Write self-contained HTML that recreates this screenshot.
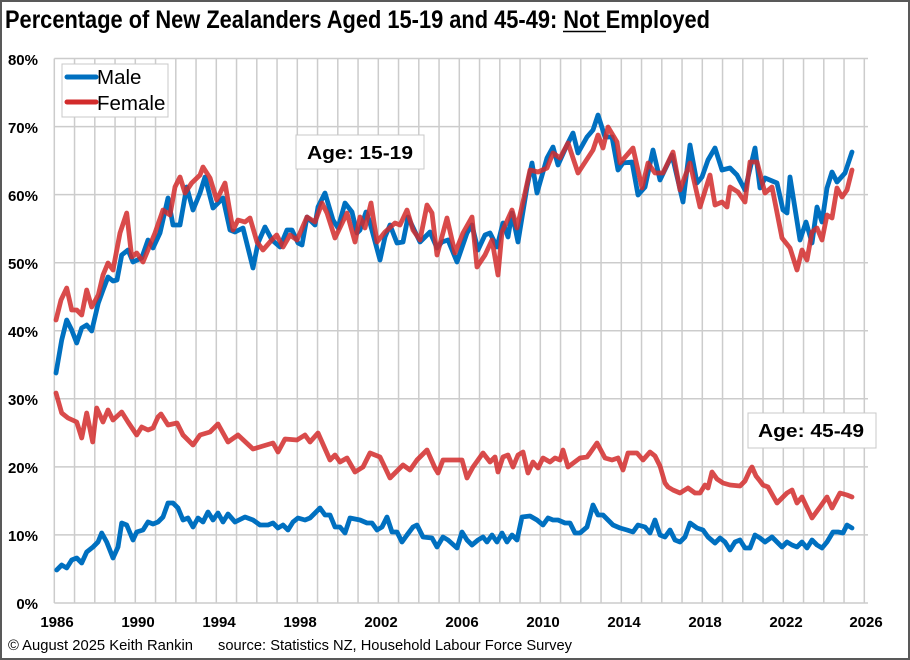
<!DOCTYPE html>
<html>
<head>
<meta charset="utf-8">
<style>
html,body{margin:0;padding:0;background:#fff;}
svg{display:block;}
text{font-family:"Liberation Sans",Arial,sans-serif;}
</style>
</head>
<body>
<svg width="910" height="660" viewBox="0 0 910 660" xmlns="http://www.w3.org/2000/svg">
<rect x="0" y="0" width="910" height="660" fill="#fff"/>
<rect x="1" y="1" width="908" height="658" fill="none" stroke="#595959" stroke-width="2"/>

<!-- title -->
<text x="5" y="28" font-size="25" font-weight="bold" fill="#000" textLength="705" lengthAdjust="spacingAndGlyphs">Percentage of New Zealanders Aged 15-19 and 45-49: Not Employed</text>
<line x1="563" y1="31.5" x2="606" y2="31.5" stroke="#000" stroke-width="1.6"/>

<!-- grid -->
<g stroke="#cccccc" stroke-width="1.5" fill="none">
<line x1="54.3" y1="603" x2="868" y2="603"/>
<line x1="54.3" y1="534.9" x2="868" y2="534.9"/>
<line x1="54.3" y1="466.9" x2="868" y2="466.9"/>
<line x1="54.3" y1="398.8" x2="868" y2="398.8"/>
<line x1="54.3" y1="330.8" x2="868" y2="330.8"/>
<line x1="54.3" y1="262.7" x2="868" y2="262.7"/>
<line x1="54.3" y1="194.6" x2="868" y2="194.6"/>
<line x1="54.3" y1="126.6" x2="868" y2="126.6"/>
<line x1="54.3" y1="58.5" x2="868" y2="58.5"/>
</g>
<g stroke="#cccccc" stroke-width="1.5" id="vgrid"></g>

<!-- y labels -->
<g font-size="15" font-weight="bold" fill="#000" text-anchor="end">
<text x="38" y="609">0%</text>
<text x="38" y="541">10%</text>
<text x="38" y="473">20%</text>
<text x="38" y="405">30%</text>
<text x="38" y="337">40%</text>
<text x="38" y="269">50%</text>
<text x="38" y="201">60%</text>
<text x="38" y="133">70%</text>
<text x="38" y="65">80%</text>
</g>
<!-- x labels -->
<g font-size="15" font-weight="bold" fill="#000" text-anchor="middle">
<text x="57" y="627">1986</text>
<text x="138" y="627">1990</text>
<text x="219" y="627">1994</text>
<text x="300" y="627">1998</text>
<text x="381" y="627">2002</text>
<text x="462" y="627">2006</text>
<text x="543" y="627">2010</text>
<text x="624" y="627">2014</text>
<text x="705" y="627">2018</text>
<text x="786" y="627">2022</text>
<text x="866" y="627">2026</text>
</g>

<!-- series -->
<g fill="none" stroke-width="4.8" stroke-linejoin="round" stroke-linecap="round">
<polyline stroke="#0070C0" points="56,373 61.7,340 66.7,320 71.7,330 76.7,343 81.7,328 86.7,325 91.7,331 98.3,303 103,290 108,277 113,281 117,280 121.7,255 128,250 133,262 141.7,258 148,240 153,248 160,233 168,198 173,225 180,225 186.7,187 193,210 200,193 205,177 213,208 223,198 230,230 235,232 243,228 253,268 258,243 265,227 272,240 280,247 287,230 292,230 298,243 302,245 307,217 315,225 318,207 325,193 333,220 338,228 345,203 352,212 357,233 360,230 366,212 370,223 380,260 385,237 390,225 397,243 403,242 408,217 420,242 430,232 437,248 442,242 448,240 457,262 467,233 472,225 478,250 485,235 490,233 497,247 503,223 508,237 512,213 518,242 527,187 532,163 537,193 547,158 553,147 558,165 567,145 573,133 578,153 587,137 593,130 598,115 605,137 612,137 618,170 623,163 632,162 638,195 645,187 653,150 660,180 672,155 683,202 690,145 697,183 702,177 708,160 715,148 722,170 730,168 737,175 745,190 755,148 760,188 765,178 777,183 783,210 787,213 790,177 800,240 806,222 812,243 817,207 822,222 827,188 832,172 837,182 845,173 852,152"/>
<polyline stroke="#0070C0" points="56.7,570 61.7,565 66.7,568 71.7,560 76.7,558 81.7,563 86.7,552 93,547 98,542 101.7,533 106.7,542 113,558 118,547 121.7,523 126.7,525 133,540 136.7,532 143,530 148,522 153,524 158,522 163,517 168,503 173,503 178,508 183,520 188,518 193,527 198,518 203,522 208,512 213,520 218,513 223,522 228,514 235,522 245,517 253,520 260,525 268,525 273,523 278,528 283,525 288,530 293,522 298,518 305,520 310,518 320,508 325,515 330,515 335,527 340,527 345,533 350,518 360,520 367,523 372,523 377,530 382,527 387,517 392,532 397,532 402,542 407,535 413,527 417,525 423,537 432,538 437,547 443,537 448,540 457,548 462,532 467,540 472,545 478,540 483,537 487,542 492,535 497,542 502,533 507,542 512,535 517,540 522,517 530,516 537,520 543,525 548,518 553,520 558,520 565,523 570,523 575,533 580,533 587,527 593,505 598,515 603,515 613,525 620,528 627,530 633,532 638,525 645,527 650,533 655,520 660,535 665,537 670,530 675,540 680,542 685,537 690,523 697,528 703,530 708,537 715,543 720,538 725,542 730,550 735,542 740,540 745,548 750,548 755,535 760,538 765,542 772,537 777,542 782,547 787,542 792,545 797,547 802,542 807,548 812,540 817,545 822,548 827,542 833,532 838,532 843,533 847,525 852,528"/>
<g stroke="#D22B2B" stroke-opacity="0.85">
<polyline points="56,320 61,300 66.7,288 71.7,310 76.7,310 81.7,315 86.7,290 91.7,307 98.3,295 103,275 108,263 113,270 120,233 126.7,213 131.7,257 136.7,253 143,262 155,233 163,210 170,215 175,187 180,177 185,193 191.7,183 200,175 203,167 210,178 216.7,200 225,183 233,230 238,220 245,222 250,218 257,242 263,250 271.7,240 276.7,235 283,247 290,235 297,240 307,217 315,222 322,203 327,213 335,238 347,213 355,242 360,217 365,228 371,203 377,242 385,232 395,223 400,225 407,210 413,230 420,240 427,205 432,213 437,255 447,218 455,253 463,233 472,217 477,267 485,255 492,240 498,275 502,232 512,210 517,228 525,193 530,170 538,172 547,168 553,153 560,158 568,143 578,173 593,150 598,135 603,148 608,127 617,142 620,163 633,148 642,188 648,163 655,173 663,173 673,152 680,190 690,163 700,207 710,175 715,205 722,202 727,207 730,187 738,192 745,202 750,162 757,162 765,193 772,187 782,238 790,248 797,270 802,250 807,260 812,232 817,228 822,240 827,215 832,218 837,188 842,197 847,190 852,170"/>
<polyline points="56,393 61.7,413 68,418 76.7,422 81.7,438 86.7,413 92.7,442 96.7,408 103,422 108,410 113,420 121.7,412 128,422 136.7,435 141.7,427 148,430 153,428 158,417 161,414 168,425 177,423 183,435 193,445 200,435 210,432 218,424 228,442 238,435 253,449 263,446 273,443 278,452 285,439 297,440 305,435 310,442 318,433 330,460 335,455 340,462 347,458 355,472 363,467 370,453 380,457 390,478 403,465 410,470 417,460 427,450 435,468 438,473 443,460 453,460 462,460 467,478 473,467 483,453 490,462 495,457 498,472 503,457 508,455 513,467 518,455 523,452 528,473 533,462 538,468 543,458 550,462 555,458 560,460 563,450 568,467 580,458 587,457 590,453 597,443 605,458 612,460 618,458 623,470 628,453 637,453 643,460 650,452 655,456 660,466 665,483 668,487 673,490 680,493 688,488 695,493 700,493 705,485 708,488 712,472 717,479 723,483 730,485 740,486 745,481 750,470 752,467 756,476 760,481 763,485 768,487 777,503 787,493 792,490 797,503 802,497 812,518 820,507 827,497 832,508 840,493 847,495 852,497"/>
</g>
</g>

<!-- legend -->
<rect x="62" y="64" width="106" height="53" fill="#fff" stroke="#c8c8c8" stroke-width="1"/>
<line x1="67" y1="77" x2="96" y2="77" stroke="#0070C0" stroke-width="5" stroke-linecap="round"/>
<line x1="67" y1="102" x2="96" y2="102" stroke="#D22B2B" stroke-width="5" stroke-linecap="round"/>
<text x="97" y="84" font-size="20.5" fill="#000">Male</text>
<text x="97" y="110" font-size="20.5" fill="#000">Female</text>

<!-- annotation boxes -->
<rect x="296" y="135" width="128" height="34" fill="#fff" stroke="#c8c8c8" stroke-width="1"/>
<text x="307" y="159" font-size="18" font-weight="bold" fill="#000" textLength="106" lengthAdjust="spacingAndGlyphs">Age:  15-19</text>
<rect x="748" y="413" width="128" height="35" fill="#fff" stroke="#c8c8c8" stroke-width="1"/>
<text x="758" y="437" font-size="18" font-weight="bold" fill="#000" textLength="106" lengthAdjust="spacingAndGlyphs">Age:  45-49</text>

<!-- footer -->
<text x="8" y="650" font-size="15" fill="#000" textLength="185" lengthAdjust="spacingAndGlyphs">© August  2025 Keith  Rankin</text>
<text x="218" y="650" font-size="15" fill="#000" textLength="354" lengthAdjust="spacingAndGlyphs">source: Statistics NZ, Household Labour Force Survey</text>

<script>
(function(){
  var g=document.getElementById('vgrid');
  for(var k=0;k<=40;k++){
    var x=54.3+k*20.25;
    var l=document.createElementNS('http://www.w3.org/2000/svg','line');
    l.setAttribute('x1',x);l.setAttribute('x2',x);
    l.setAttribute('y1',58.5);l.setAttribute('y2',603);
    g.appendChild(l);
  }
})();
</script>
</svg>
</body>
</html>
